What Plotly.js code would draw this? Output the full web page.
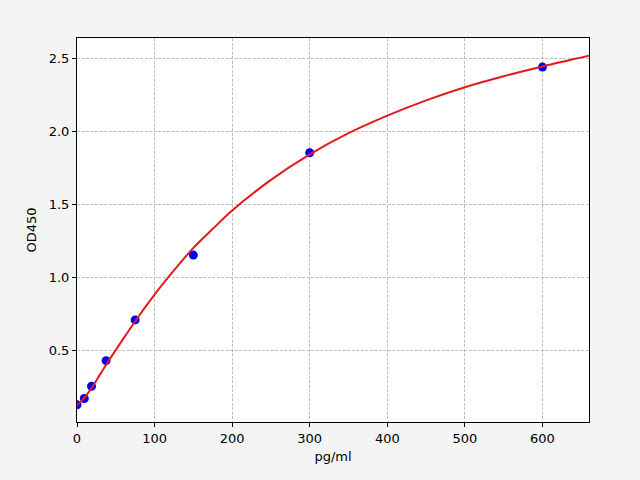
<!DOCTYPE html>
<html>
<head>
<meta charset="utf-8">
<script src="https://cdn.plot.ly/plotly-3.0.1.min.js"></script>
<style>html,body{margin:0;padding:0;background:#f4f4f4;}</style>
</head>
<body>
<div id="chart" style="width:640px;height:480px;"></div>
<script>
// Standard points
const stdConc = [0, 9.375, 18.75, 37.5, 75, 150, 300, 600];
const stdOD = [0.125, 0.168, 0.252, 0.427, 0.706, 1.150, 1.851, 2.438];
// Fitted curve
const curveConc = [0, 10, 20, 30, 40, 50, 60, 80, 100, 125, 150, 175, 200, 250, 300, 350, 400, 450, 500, 550, 600, 660];
const curveOD = [0.12, 0.175, 0.25, 0.335, 0.42, 0.50, 0.58, 0.735, 0.88, 1.045, 1.20, 1.33, 1.455, 1.665, 1.84, 1.985, 2.105, 2.21, 2.30, 2.375, 2.442, 2.515];

const axisFont = {family: 'DejaVu Sans', size: 13, color: '#000'};

const traces = [
  {
    x: stdConc, y: stdOD, type: 'scatter', mode: 'markers',
    marker: {color: '#0000f0', size: 9, line: {width: 0}},
    showlegend: false, hoverinfo: 'x+y'
  },
  {
    x: curveConc, y: curveOD, type: 'scatter', mode: 'lines',
    line: {color: '#e31a1c', width: 2, shape: 'spline', smoothing: 0.8},
    showlegend: false, hoverinfo: 'none'
  }
];

const axisCommon = {
  showline: true, mirror: true, linecolor: '#000', linewidth: 1,
  ticks: 'outside', ticklen: 4, tickwidth: 1, tickcolor: '#000',
  showgrid: true, gridcolor: '#b0b0b0', gridwidth: 0.8, griddash: '3px,1.5px',
  zeroline: false, tickfont: axisFont
};

const layout = {
  width: 640, height: 480,
  paper_bgcolor: '#f4f4f4', plot_bgcolor: '#ffffff',
  margin: {l: 77, r: 51, t: 38, b: 58, pad: 0},
  xaxis: Object.assign({}, axisCommon, {
    range: [0, 660], tick0: 0, dtick: 100,
    title: {text: 'pg/ml', font: axisFont, standoff: 7}
  }),
  yaxis: Object.assign({}, axisCommon, {
    range: [0.007, 2.637], tick0: 0, dtick: 0.5, tickformat: '.1f',
    title: {text: 'OD450', font: axisFont, standoff: 9}
  }),
  showlegend: false
};

Plotly.newPlot('chart', traces, layout, {displayModeBar: false, staticPlot: true});
</script>
</body>
</html>
